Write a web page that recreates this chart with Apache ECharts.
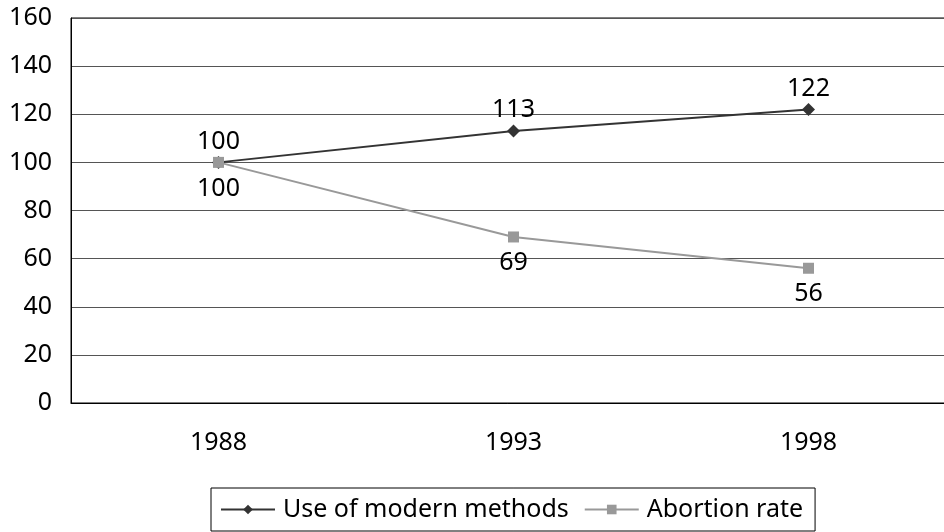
<!DOCTYPE html>
<html>
<head>
<meta charset="utf-8">
<script src="https://cdn.jsdelivr.net/npm/echarts@6/dist/echarts.min.js"></script>
<style>html,body{margin:0;padding:0;background:#fff}#c{width:944px;height:532px}</style>
</head>
<body>
<div id="c"></div>
<script>
const categories = ['1988', '1993', '1998'];
const modernMethods = [100, 113, 122];
const abortionRate = [100, 69, 56];
const seriesNames = ['Use of modern methods', 'Abortion rate'];

const FONT = 'Noto Sans';
const FS = 25;
const chart = echarts.init(document.getElementById('c'), null, {renderer: 'canvas'});
chart.setOption({
  animation: false,
  backgroundColor: '#fff',
  textStyle: {fontFamily: FONT},
  grid: {left: 71, top: 18, width: 885, height: 385, outerBoundsMode: 'none', show: true, borderColor: '#000', borderWidth: 1, containLabel: false},
  xAxis: {
    type: 'category', data: categories, boundaryGap: true,
    axisLine: {lineStyle: {color: '#000', width: 1}},
    axisTick: {show: false},
    axisLabel: {color: '#000', fontSize: FS, fontFamily: FONT, margin: 27}
  },
  yAxis: {
    type: 'value', min: 0, max: 160, interval: 20,
    axisLine: {show: true, lineStyle: {color: '#000', width: 1}},
    axisTick: {show: false},
    axisLabel: {color: '#000', fontSize: FS, fontFamily: FONT, margin: 19},
    splitLine: {lineStyle: {color: '#555', width: 1}}
  },
  legend: {
    show: true, left: 211, bottom: 1,
    padding: [9, 12, 9, 9],
    borderColor: '#000', borderWidth: 1,
    itemWidth: 54, itemHeight: 12, itemGap: 15,
    textStyle: {color: '#000', fontSize: FS, fontFamily: FONT, padding: [0, 0, 0, 3]},
    data: seriesNames
  },
  series: [
    {
      name: seriesNames[0], type: 'line', data: modernMethods,
      symbol: 'diamond', symbolSize: 13,
      lineStyle: {color: '#333', width: 2},
      itemStyle: {color: '#333'},
      label: {show: true, position: 'top', distance: 2, color: '#000', fontSize: FS, fontFamily: FONT},
      z: 3
    },
    {
      name: seriesNames[1], type: 'line', data: abortionRate,
      symbol: 'rect', symbolSize: 11,
      lineStyle: {color: '#999', width: 2},
      itemStyle: {color: '#999'},
      label: {show: true, position: 'bottom', distance: 8, color: '#000', fontSize: FS, fontFamily: FONT},
      z: 4
    }
  ]
});
</script>
</body>
</html>
